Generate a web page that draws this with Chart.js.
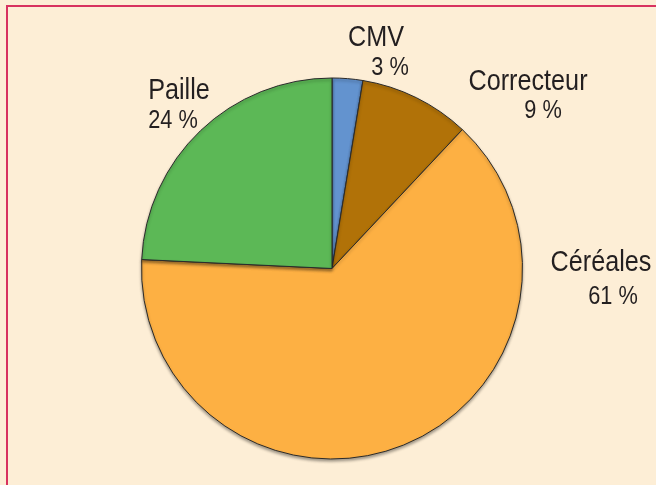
<!DOCTYPE html>
<html>
<head>
<meta charset="utf-8">
<title>Ration</title>
<script src="https://cdn.jsdelivr.net/npm/chart.js@4.4.1/dist/chart.umd.min.js"></script>
<style>
	html, body {
		margin: 0;
		padding: 0;
		background: #fdeed6;
	}
	#rationChart {
		display: block;
	}
</style>
</head>
<body>
<canvas id="rationChart" width="656" height="485"></canvas>
<script>
// Slice data (angles, printed labels kept separately)
var categories = ['CMV', 'Correcteur', 'Céréales', 'Paille'];
var shares = [2.6, 9.4, 63.75, 24.25];
var shareLabels = ['3 %', '9 %', '61 %', '24 %'];

var sliceColors = ['#6393cf', '#b17208', '#fdb043', '#5cb856'];

// label placement, offsets from the pie centre (name line, then percent line)
var labelSpots = [
	{ nx: 44, ny: -223, px: 58, py: -194 },
	{ nx: 196, ny: -179, px: 211, py: -151 },
	{ nx: 269, ny: 2, px: 281, py: 35 },
	{ nx: -153, ny: -170, px: -159, py: -141 }
];

var fontFamily = '"Liberation Sans", Arial, sans-serif';
var narrow = 0.84; // the original type is a condensed sans

// frame and background of the figure
var framePlugin = {
	id: 'frame',
	beforeDraw: function (chart) {
		var ctx = chart.ctx;
		ctx.save();
		ctx.fillStyle = '#fdeed6';
		ctx.fillRect(0, 0, chart.width, chart.height);
		ctx.strokeStyle = '#d8325f';
		ctx.lineWidth = 2;
		ctx.beginPath();
		ctx.moveTo(7, chart.height);
		ctx.lineTo(7, 6);
		ctx.lineTo(chart.width, 6);
		ctx.stroke();
		ctx.restore();
	}
};

// soft shadow under the pie
var shadowPlugin = {
	id: 'pieShadow',
	beforeDatasetDraw: function (chart) {
		var ctx = chart.ctx;
		ctx.save();
		ctx.shadowColor = 'rgba(0, 0, 0, 0.35)';
		ctx.shadowBlur = 3;
		ctx.shadowOffsetY = 2;
	},
	afterDatasetDraw: function (chart) {
		chart.ctx.restore();
	}
};

function drawNarrow(ctx, text, x, y, size, squeeze) {
	ctx.save();
	ctx.translate(x, y);
	ctx.scale(squeeze, 1);
	ctx.font = size + 'px ' + fontFamily;
	ctx.fillText(text, 0, 0);
	ctx.restore();
}

// names and percentages around the pie
var labelPlugin = {
	id: 'sliceLabels',
	afterDatasetsDraw: function (chart) {
		var ctx = chart.ctx;
		var arc = chart.getDatasetMeta(0).data[0];
		var cx = arc.x;
		var cy = arc.y;
		ctx.save();
		ctx.fillStyle = '#231f20';
		ctx.textAlign = 'center';
		ctx.textBaseline = 'alphabetic';
		for (var i = 0; i < categories.length; i++) {
			var spot = labelSpots[i];
			drawNarrow(ctx, categories[i], cx + spot.nx, cy + spot.ny, 30, narrow);
			drawNarrow(ctx, shareLabels[i], cx + spot.px, cy + spot.py, 25, 0.87);
		}
		ctx.restore();
	}
};

var config = {
	type: 'pie',
	data: {
		labels: categories,
		datasets: [{
			data: shares,
			backgroundColor: sliceColors,
			borderColor: '#2b2b2b',
			borderWidth: 1
		}]
	},
	options: {
		responsive: false,
		animation: false,
		layout: {
			padding: {
				left: 100,
				right: 92,
				top: 77.5,
				bottom: 25.5
			}
		},
		plugins: {
			legend: {
				display: false
			},
			title: {
				display: false
			},
			tooltip: {
				enabled: false
			}
		}
	},
	plugins: [framePlugin, shadowPlugin, labelPlugin]
};

var rationChart = new Chart(document.getElementById('rationChart'), config);
</script>
</body>
</html>
